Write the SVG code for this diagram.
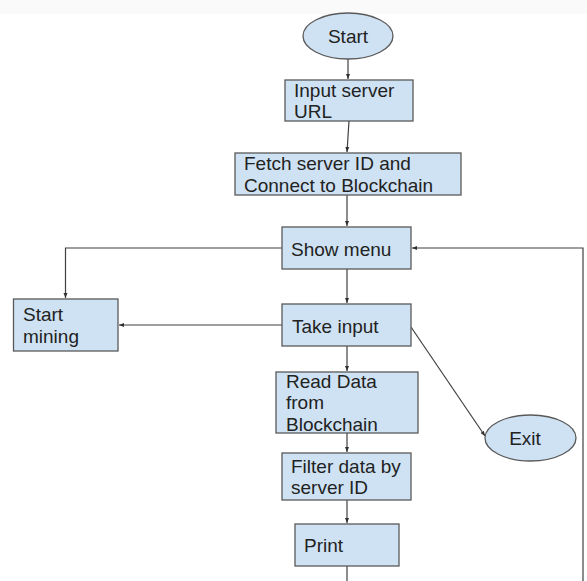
<svg xmlns="http://www.w3.org/2000/svg" width="587" height="581" viewBox="0 0 587 581">
<defs>
<style>
.box{fill:#cfe2f3;stroke:#595959;stroke-width:1.3}
.t{font-family:"Liberation Sans",Arial,sans-serif;font-size:19px;fill:#222}
.c{fill:none;stroke:#404040;stroke-width:1.2}
</style>
<marker id="ah" viewBox="0 0 10 10" refX="10" refY="5" markerWidth="5" markerHeight="5" orient="auto" markerUnits="userSpaceOnUse">
<path d="M0,1 L10,5 L0,9 z" fill="#303030"/>
</marker>
</defs>
<rect width="587" height="581" fill="#fff"/>
<rect width="587" height="14" fill="#fafafa"/>
<g id="connectors">
<path class="c" d="M348,59 L348,79" marker-end="url(#ah)"/>
<path class="c" d="M349,121 L347,152" marker-end="url(#ah)"/>
<path class="c" d="M347,195 L347,226" marker-end="url(#ah)"/>
<path class="c" d="M347,269 L347,303" marker-end="url(#ah)"/>
<path class="c" d="M347,346 L347,371" marker-end="url(#ah)"/>
<path class="c" d="M347,433 L347,452" marker-end="url(#ah)"/>
<path class="c" d="M347,500 L347,523" marker-end="url(#ah)"/>
<path class="c" d="M347,566 L347,581"/>
<path class="c" d="M282,248 L65.5,248 L65.5,298" marker-end="url(#ah)"/>
<path class="c" d="M282,325 L119,325" marker-end="url(#ah)"/>
<path class="c" d="M411,327 L485,436" marker-end="url(#ah)"/>
<path class="c" d="M583,581 L583,248 L412,248" marker-end="url(#ah)"/>
</g>
<g id="start">
<ellipse class="box" cx="348" cy="36" rx="45" ry="23"/>
<text class="t" x="348" y="43" text-anchor="middle">Start</text>
</g>
<g id="input-url">
<rect class="box" x="285" y="80" width="128" height="41"/>
<text class="t" x="294" y="97">Input server</text>
<text class="t" x="294" y="118">URL</text>
</g>
<g id="fetch">
<rect class="box" x="235" y="153" width="226" height="42"/>
<text class="t" x="244" y="170">Fetch server ID and</text>
<text class="t" x="244" y="192">Connect to Blockchain</text>
</g>
<g id="show-menu">
<rect class="box" x="282" y="227" width="129" height="42"/>
<text class="t" x="291" y="256">Show menu</text>
</g>
<g id="start-mining">
<rect class="box" x="13.5" y="299" width="104.5" height="52"/>
<text class="t" x="23" y="321">Start</text>
<text class="t" x="23" y="343">mining</text>
</g>
<g id="take-input">
<rect class="box" x="282" y="304" width="129" height="42"/>
<text class="t" x="292" y="333">Take input</text>
</g>
<g id="read-data">
<rect class="box" x="276" y="372" width="142" height="61"/>
<text class="t" x="286" y="388">Read Data</text>
<text class="t" x="286" y="409">from</text>
<text class="t" x="286" y="431">Blockchain</text>
</g>
<g id="filter">
<rect class="box" x="282" y="453" width="129" height="47"/>
<text class="t" x="291" y="473">Filter data by</text>
<text class="t" x="291" y="494">server ID</text>
</g>
<g id="print">
<rect class="box" x="295" y="524" width="104" height="42"/>
<text class="t" x="304" y="552">Print</text>
</g>
<g id="exit">
<ellipse class="box" cx="530.5" cy="438" rx="45.5" ry="23"/>
<text class="t" x="525" y="445" text-anchor="middle">Exit</text>
</g>
</svg>
